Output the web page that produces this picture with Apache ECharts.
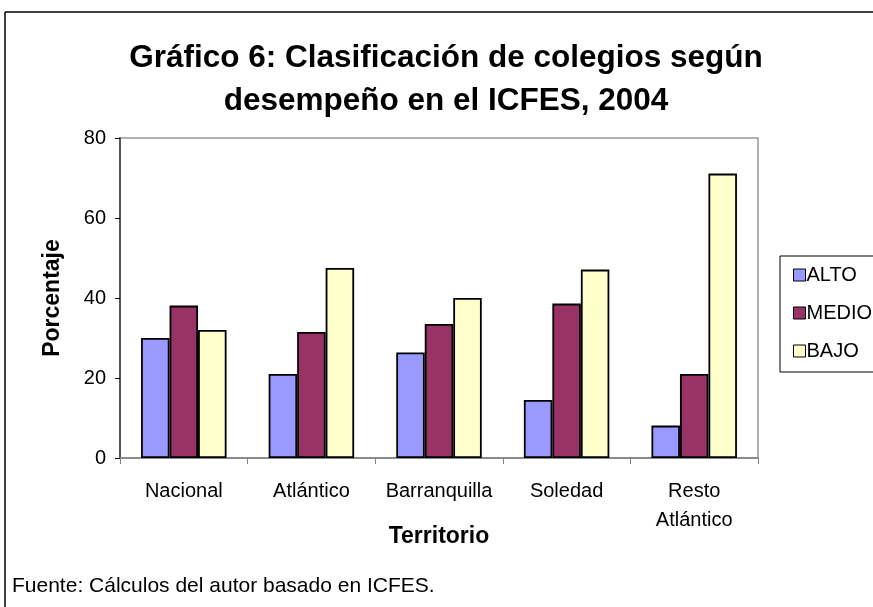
<!DOCTYPE html>
<html lang="es">
<head>
<meta charset="UTF-8" />
<title>Gráfico 6</title>
</head>
<body>
<style>
* {
  margin: 0;
  padding: 0;
}
#chartEl {
  width: 873px;
  height: 607px;
  background-color: #fff;
}
</style>
<div id="chartEl"></div>
<script src="https://cdn.jsdelivr.net/npm/echarts@6/dist/echarts.min.js"></script>
<script>
// categorias y valores (porcentaje)
const territorios = ['Nacional', 'Atlántico', 'Barranquilla', 'Soledad', 'Resto\nAtlántico'];
const alto = [30, 21, 26.4, 14.5, 8.1];
const medio = [38.1, 31.5, 33.5, 38.6, 21];
const bajo = [32, 47.5, 40, 47.1, 71.1];
const yTicks = [0, 20, 40, 60, 80];

const font = '"Liberation Sans", Arial, sans-serif';

function barSerie(name, data, color) {
  return {
    name: name,
    type: 'bar',
    data: data,
    barGap: '0%',
    barCategoryGap: '33%',
    itemStyle: {
      color: color,
      borderColor: '#000',
      borderWidth: 1.8,
    },
  };
}

const chart = echarts.init(document.getElementById('chartEl'));
chart.setOption({
  animation: false,
  textStyle: { fontFamily: font },
  title: {
    text: 'Gráfico 6: Clasificación de colegios según\ndesempeño en el ICFES, 2004',
    left: 441,
    top: 32,
    textAlign: 'center',
    textStyle: {
      fontFamily: font,
      fontSize: 31.5,
      fontWeight: 'bold',
      lineHeight: 43,
      color: '#000',
    },
  },
  legend: {
    orient: 'vertical',
    left: 788,
    top: 260,
    icon: 'rect',
    itemWidth: 12,
    itemHeight: 12,
    itemGap: 18,
    selectedMode: false,
    itemStyle: { borderColor: '#000', borderWidth: 1 },
    textStyle: { fontFamily: font, fontSize: 20, color: '#000', padding: [0, 0, 0, -4] },
    data: ['ALTO', 'MEDIO', 'BAJO'],
  },
  grid: {
    left: 120,
    right: 115,
    top: 138,
    bottom: 149,
    show: true,
    borderColor: '#999',
    borderWidth: 1.5,
  },
  xAxis: {
    type: 'category',
    data: territorios,
    name: 'Territorio',
    nameLocation: 'middle',
    nameMoveOverlap: false,
    nameGap: 67,
    nameTextStyle: { fontFamily: font, fontSize: 23, fontWeight: 'bold', color: '#000' },
    axisLine: { lineStyle: { color: '#808080', width: 1.5 } },
    axisTick: { show: true, length: 6, lineStyle: { color: '#808080' } },
    axisLabel: { interval: 0, fontSize: 20, color: '#000', margin: 19, lineHeight: 29, verticalAlign: 'top' },
  },
  yAxis: {
    type: 'value',
    min: 0,
    max: 80,
    interval: 20,
    name: 'Porcentaje',
    nameLocation: 'middle',
    nameGap: 56,
    nameTextStyle: { fontFamily: font, fontSize: 23, fontWeight: 'bold', color: '#000' },
    axisLine: { show: true, lineStyle: { color: '#555', width: 2 } },
    axisTick: { show: true, length: 5, lineStyle: { color: '#000' } },
    splitLine: { show: false },
    axisLabel: {
      fontSize: 20,
      color: '#000',
      margin: 14,
      formatter: function (v) { return yTicks.indexOf(v) >= 0 ? String(v) : ''; },
    },
  },
  graphic: [
    // marco exterior
    { type: 'line', shape: { x1: 5, y1: 12, x2: 873, y2: 12 }, style: { stroke: '#000', lineWidth: 1.5 } },
    { type: 'line', shape: { x1: 5, y1: 12, x2: 5, y2: 607 }, style: { stroke: '#000', lineWidth: 1.5 } },
    // caja de leyenda
    { type: 'rect', shape: { x: 780, y: 256, width: 110, height: 116 }, style: { fill: 'none', stroke: '#000', lineWidth: 1 }, z: -1 },
    {
      type: 'text',
      left: 12,
      top: 576,
      style: { text: 'Fuente: Cálculos del autor basado en ICFES.', font: '21px ' + font, fill: '#000' },
    },
  ],
  series: [
    barSerie('ALTO', alto, '#9999FF'),
    barSerie('MEDIO', medio, '#993366'),
    barSerie('BAJO', bajo, '#FFFFCC'),
  ],
});
</script>
</body>
</html>
